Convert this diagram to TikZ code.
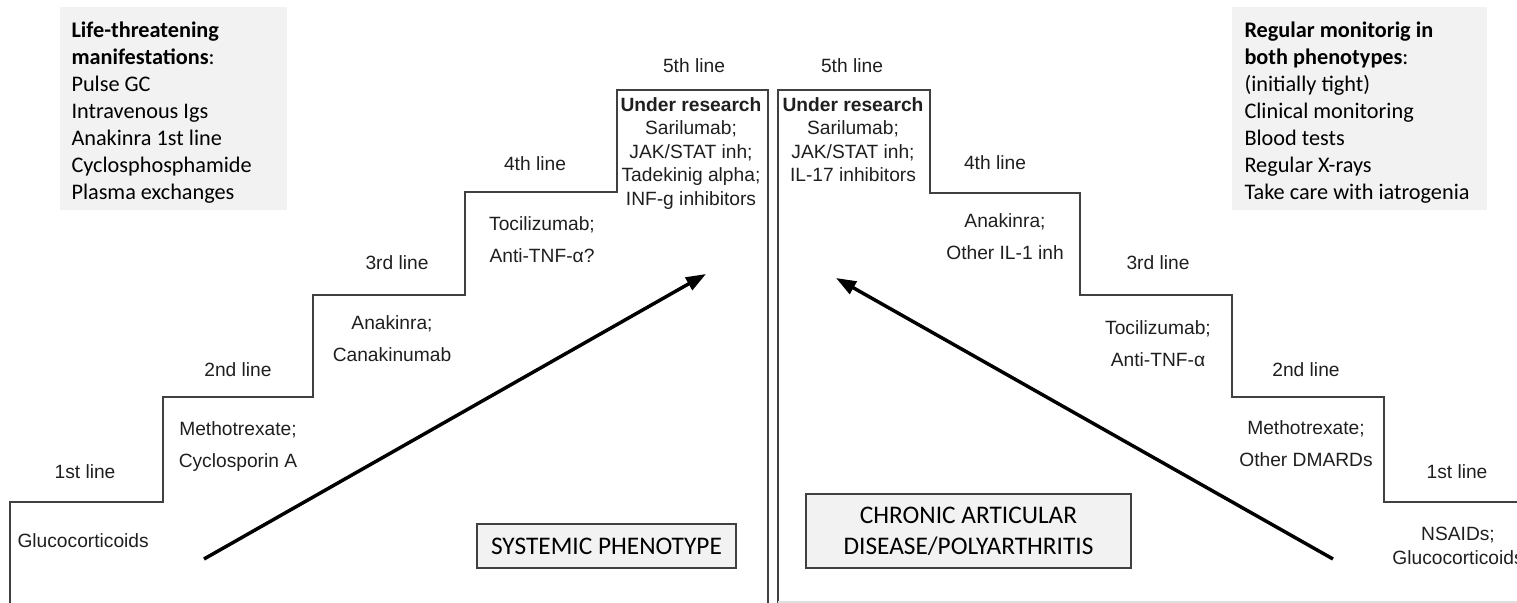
\documentclass[tikz,border=0pt]{standalone}
\usepackage{fontspec}
\setmainfont{Liberation Sans}
\newfontfamily\calibrifont{Carlito}
\usetikzlibrary{arrows.meta}

\definecolor{stairgray}{HTML}{404040}
\definecolor{boxgray}{HTML}{F2F2F2}
\definecolor{inkgray}{HTML}{1F1F1F}

\tikzset{every picture/.style={line width=0.75pt}}
\tikzset{
  stair/.style={draw=stairgray, line width=1.1pt},
  steplabel/.style={font=\fontsize{14.4}{17}\selectfont, text=inkgray, inner sep=0pt},
  drugs/.style={font=\fontsize{14.4}{24}\selectfont, text=inkgray, align=center, inner sep=0pt},
  research/.style={font=\fontsize{14.4}{17.6}\selectfont, text=inkgray, align=center, inner sep=0pt, anchor=north},
  notetext/.style={font=\calibrifont\fontsize{16.7}{20.25}\selectfont, align=left, anchor=north west, inner sep=0pt},
  phenotype/.style={draw=stairgray, line width=0.9pt, fill=boxgray, font=\calibrifont\fontsize{19}{23.25}\selectfont, align=center, inner sep=0pt},
  progress/.style={line width=2.6pt, -{Triangle[length=15pt,width=10.5pt]}}
}

\begin{document}
\begin{tikzpicture}[x=0.75pt,y=0.75pt,yscale=-1,xscale=1]
\useasboundingbox (0,0) rectangle (1517,603);

%Shape: Grey note boxes
\fill[boxgray] (60,7) rectangle (287,210);
\fill[boxgray] (1232,7) rectangle (1487,210);

%Shape: Left staircase (systemic)
\draw[stair] (10,603) -- (10,502) -- (163,502) -- (163,397) -- (313,397) -- (313,295) -- (465,295) -- (465,192) -- (617,192) -- (617,90) -- (768,90) -- (768,603);
%Shape: Right staircase (articular)
\draw[stair] (778,603) -- (778,90) -- (930,90) -- (930,193) -- (1080,193) -- (1080,295) -- (1232,295) -- (1232,397) -- (1384,397) -- (1384,502) -- (1517,502);
%Straight Lines: bottom edge
\draw[gray!25, line width=0.8pt] (778,602) -- (1517,602);

% Text Node: notes
\node[notetext] (lifeNote) at (71,21) {\textbf{Life-threatening}\\\textbf{manifestations}:\\Pulse GC\\Intravenous Igs\\Anakinra 1st line\\Cyclosphosphamide\\Plasma exchanges};
\node[notetext] (monitorNote) at (1244,21) {\textbf{Regular monitorig in}\\\textbf{both phenotypes}:\\(initially tight)\\Clinical monitoring\\Blood tests\\Regular X-rays\\Take care with iatrogenia};

% Text Node: systemic steps
\node[steplabel] (sysFirst) at (85,472) {1st line};
\node[steplabel, anchor=west] (sysFirstDrug) at (17,541) {Glucocorticoids};
\node[steplabel] (sysSecond) at (238,370) {2nd line};
\node[drugs] (sysSecondDrug) at (238,447) {Methotrexate;\\Cyclosporin A};
\node[steplabel] (sysThird) at (397,263) {3rd line};
\node[drugs] (sysThirdDrug) at (392,339) {Anakinra;\\Canakinumab};
\node[steplabel] (sysFourth) at (535,164) {4th line};
\node[drugs] (sysFourthDrug) at (542,240) {Tocilizumab;\\Anti-TNF-α?};
\node[steplabel] (sysFifth) at (694,66) {5th line};
\node[research] (sysFifthDrug) at (691,97) {\textbf{Under research}\\Sarilumab;\\JAK/STAT inh;\\Tadekinig alpha;\\INF-g inhibitors};

% Text Node: articular steps
\node[steplabel] (artFifth) at (852,66) {5th line};
\node[research] (artFifthDrug) at (853,97) {\textbf{Under research}\\Sarilumab;\\JAK/STAT inh;\\IL-17 inhibitors};
\node[steplabel] (artFourth) at (995,163) {4th line};
\node[drugs] (artFourthDrug) at (1005,237) {Anakinra;\\Other IL-1 inh};
\node[steplabel] (artThird) at (1158,263) {3rd line};
\node[drugs] (artThirdDrug) at (1158,344) {Tocilizumab;\\Anti-TNF-α};
\node[steplabel] (artSecond) at (1306,370) {2nd line};
\node[drugs] (artSecondDrug) at (1306,444) {Methotrexate;\\Other DMARDs};
\node[steplabel] (artFirst) at (1457,472) {1st line};
\node[research, anchor=center] (artFirstDrug) at (1458,546) {NSAIDs;\\Glucocorticoids};

% Text Node: phenotypes
\node[phenotype, minimum width=194.25pt, minimum height=33pt] (systemic) at (606.5,546) {SYSTEMIC PHENOTYPE};
\node[phenotype, minimum width=243.75pt, minimum height=55.5pt] (articular) at (968.5,531) {CHRONIC ARTICULAR\\DISEASE/POLYARTHRITIS};

%Straight Lines: escalation arrows
\coordinate (sysTail) at (204,559);
\coordinate (sysHead) at (706,274);
\coordinate (artTail) at (1333,559);
\coordinate (artHead) at (836,278);
\draw[progress] (sysTail) -- (sysHead);
\draw[progress] (artTail) -- (artHead);

\end{tikzpicture}
\end{document}
